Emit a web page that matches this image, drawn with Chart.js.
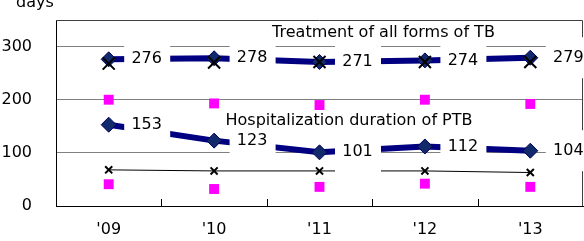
<!DOCTYPE html>
<html><head><meta charset="utf-8">
<script src="https://cdn.jsdelivr.net/npm/chart.js@4/dist/chart.umd.min.js"></script>
<style>html,body{margin:0;padding:0;background:#fff;overflow:hidden}#wrap{width:584px;height:241px;position:relative}</style>
</head><body><div id="wrap"><canvas id="c" width="584" height="241"></canvas></div>
<script>
// ---- data ----
const categories = ["'09", "'10", "'11", "'12", "'13"];
const treatmentDays = [276, 278, 271, 274, 279];
const treatmentCross = [268, 270, 271, 271, 271];
const treatmentSquare = [200, 193, 190, 200, 192];
const hospDays = [153, 123, 101, 112, 104];
const hospCross = [68, 66, 66, 66, 63];
const hospSquare = [41, 32, 36, 42, 36];
const yTicks = [0, 100, 200, 300];
const yMax = 350;
const yUnit = 'days';
const noteTexts = ['Treatment of all forms of TB', 'Hospitalization duration of PTB'];

const FONT = '16px "DejaVu Sans"';
Chart.defaults.font.family = '"DejaVu Sans"';
Chart.defaults.font.size = 16;
Chart.defaults.color = '#000';

const deco = {
  id: 'deco',
  beforeDatasetsDraw(chart) {
    const {ctx, chartArea: a} = chart;
    const xs = chart.scales.x;
    ctx.save();
    ctx.strokeStyle = '#404040';
    ctx.lineWidth = 1;
    ctx.beginPath();
    ctx.moveTo(a.left, a.top + 0.5);
    ctx.lineTo(a.right - 0.5, a.top + 0.5);
    ctx.lineTo(a.right - 0.5, a.bottom);
    ctx.stroke();
    ctx.strokeStyle = '#000';
    ctx.beginPath();
    for (let i = 0; i < categories.length - 1; i++) {
      const px = Math.round((xs.getPixelForValue(i) + xs.getPixelForValue(i + 1)) / 2) + 0.5;
      ctx.moveTo(px, a.bottom);
      ctx.lineTo(px, a.bottom - 7);
    }
    ctx.stroke();
    ctx.restore();
  },
  afterDatasetsDraw(chart) {
    const {ctx, chartArea: a} = chart;
    const xs = chart.scales.x, ys = chart.scales.y;
    ctx.save();
    ctx.font = FONT;
    ctx.textAlign = 'center';
    ctx.textBaseline = 'middle';
    [treatmentDays, hospDays].forEach(series => {
      series.forEach((v, i) => {
        const px = xs.getPixelForValue(i), py = ys.getPixelForValue(v);
        ctx.fillStyle = '#fff';
        ctx.fillRect(px + 15.5, py - 20.5, 46, 41);
        ctx.fillStyle = '#000';
        ctx.fillText(String(v), px + 38, py);
      });
    });
    ctx.textBaseline = 'alphabetic';
    ctx.fillText(noteTexts[0], xs.getPixelForValue(2.607), ys.getPixelForValue(318));
    ctx.fillText(noteTexts[1], xs.getPixelForValue(2.28), ys.getPixelForValue(152.4));
    ctx.fillText(yUnit, a.left - 21, a.top - 13);
    ctx.restore();
  }
};

new Chart(document.getElementById('c'), {
  type: 'line',
  data: {
    labels: categories,
    datasets: [
      {data: treatmentCross, showLine: false, pointStyle: 'crossRot', pointRadius: 8.5, borderColor: '#000', pointBorderWidth: 2, order: 1},
      {data: hospCross, pointStyle: 'crossRot', pointRadius: 5, borderColor: '#000', borderWidth: 1, pointBorderWidth: 2, order: 2},
      {data: treatmentDays, borderColor: '#000080', borderWidth: 6, pointStyle: 'rectRot', pointRadius: 7.5, pointBackgroundColor: '#112a6c', pointBorderColor: '#000060', pointBorderWidth: 1, order: 3},
      {data: hospDays, borderColor: '#000080', borderWidth: 6, pointStyle: 'rectRot', pointRadius: 7.5, pointBackgroundColor: '#112a6c', pointBorderColor: '#000060', pointBorderWidth: 1, order: 3},
      {data: treatmentSquare, showLine: false, pointStyle: 'rect', pointRadius: 7, pointBackgroundColor: '#ff00ff', pointBorderColor: '#ff00ff', pointBorderWidth: 0, order: 4},
      {data: hospSquare, showLine: false, pointStyle: 'rect', pointRadius: 7, pointBackgroundColor: '#ff00ff', pointBorderColor: '#ff00ff', pointBorderWidth: 0, order: 4}
    ]
  },
  options: {
    responsive: false,
    animation: false,
    layout: {autoPadding: false, padding: {top: 20, right: 1, left: 0, bottom: 0}},
    plugins: {legend: {display: false}, tooltip: {enabled: false}},
    scales: {
      x: {
        offset: true,
        grid: {display: false, drawTicks: false},
        border: {display: true, color: '#000', width: 1},
        ticks: {padding: 14, font: {size: 16}},
        afterFit(s) { s.height = 35; s.paddingLeft = 0; s.paddingRight = 0; }
      },
      y: {
        min: 0, max: yMax,
        afterBuildTicks(s) { s.ticks = yTicks.map(v => ({value: v})); },
        grid: {color: '#808080', drawTicks: false},
        border: {display: true, color: '#000', width: 1},
        ticks: {padding: 24, font: {size: 16}},
        afterFit(s) { s.width = 56; s.paddingTop = 0; s.paddingBottom = 0; }
      }
    }
  },
  plugins: [deco]
});
</script>
</body></html>
